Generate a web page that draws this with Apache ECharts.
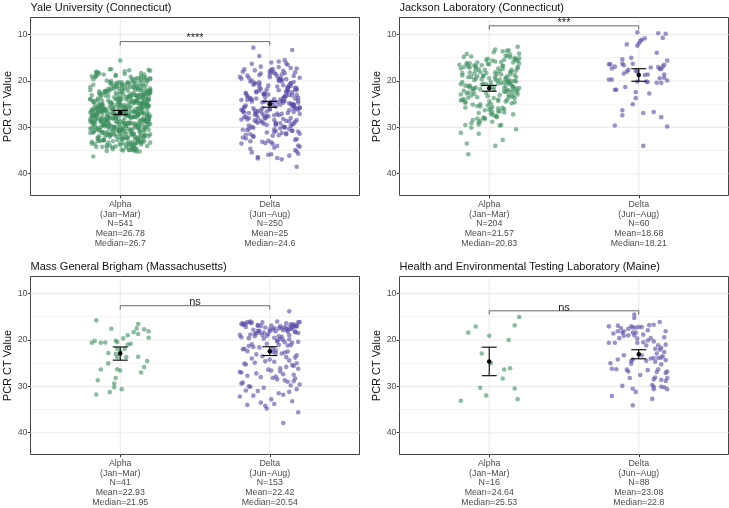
<!DOCTYPE html>
<html><head><meta charset="utf-8">
<script src="https://cdn.jsdelivr.net/npm/echarts@6/dist/echarts.min.js"></script>
<style>html,body{margin:0;padding:0;background:#fff}#c{width:729px;height:508px}</style>
</head><body><div id="c"></div>
<script>
// ---------- data ----------
const panelTitles = ["Yale University (Connecticut)", "Jackson Laboratory (Connecticut)", "Mass General Brigham (Massachusetts)", "Health and Environmental Testing Laboratory (Maine)"];
const variants = ["Alpha", "Delta"];
const periods = ["(Jan\u2212Mar)", "(Jun\u2212Aug)"];
const nCounts = [[541, 250], [204, 60], [41, 153], [16, 88]];
const meanVals = [[26.78, 25], [21.57, 18.68], [22.93, 22.42], [24.64, 23.08]];
const medianVals = [[26.7, 24.6], [20.83, 18.21], [21.95, 20.54], [25.53, 22.8]];
const ciLow = [[26.35, 24.4], [20.95, 17.35], [21.5, 21.45], [21.55, 22.1]];
const ciHigh = [[27.25, 25.65], [22.2, 20.05], [24.35, 23.35], [27.7, 24.05]];
const sigLabels = ["****", "***", "ns", "ns"];
const bracketY = [11.5, 8.1, 12.6, 13.7];
const yTickVals = [10, 20, 30, 40];
const yMinorVals = [15, 25, 35];
const catPositions = [1, 2];

// Yale Alpha (CT, jitter in hundredths of a category)
const yaleAlphaCt = [
26.4,31.2,19.8,28.7,23.1,33.5,25.9,21.4,29.6,27.3,18.2,30.8,24.6,34.1,22.7,27.9,20.5,32.4,26.1,28.3,
24.2,29.1,17.9,33.0,27.6,22.3,30.2,25.4,35.0,21.0,28.9,26.8,19.3,31.7,23.8,27.2,32.9,24.9,20.1,29.8,
25.1,34.6,22.0,28.1,30.5,18.6,26.9,23.4,31.9,27.7,21.7,33.3,25.6,29.3,19.0,28.6,24.0,32.1,26.3,22.9,
30.0,20.8,27.4,33.8,23.6,29.0,17.6,26.0,31.4,24.4,28.4,21.2,34.8,25.2,30.6,22.5,27.0,19.6,32.7,25.8,
28.0,23.0,31.0,26.6,20.3,33.1,24.7,29.4,18.4,27.5,22.1,30.3,25.5,34.3,21.9,28.8,26.2,31.6,23.3,29.7,
19.9,27.1,32.2,24.1,29.2,22.6,35.2,26.5,20.6,30.9,25.0,28.5,17.4,31.3,23.7,27.8,33.6,21.5,26.7,29.9,
24.8,31.8,22.4,28.2,18.9,33.7,26.4,30.1,21.1,27.3,34.5,23.5,29.5,25.7,19.4,32.0,27.6,22.8,30.7,25.3,
29.3,21.8,26.9,33.4,24.3,28.6,20.0,31.5,25.9,22.2,30.4,27.2,18.1,32.6,26.0,29.0,23.9,34.9,27.9,24.5,
26.1,30.6,23.2,19.2,28.9,32.8,25.1,21.6,29.8,27.4,33.9,24.0,30.2,20.4,26.8,28.1,22.7,31.1,25.6,35.1,
27.7,22.0,29.6,24.6,31.9,18.7,26.3,33.2,23.1,28.4,20.9,30.8,25.4,27.0,32.3,21.3,29.1,24.2,34.0,26.6,
23.4,28.7,31.4,20.7,26.0,33.0,25.2,29.4,17.8,27.9,22.9,30.0,24.9,32.5,19.7,28.3,26.5,34.4,21.7,30.5,
31.2,25.8,22.5,28.0,19.1,27.5,33.8,24.7,29.9,21.4,26.2,31.7,23.6,28.8,35.0,25.0,20.2,30.3,27.1,24.4,
28.5,20.5,32.9,26.7,23.8,30.7,18.3,27.8,25.3,31.0,22.3,29.2,34.7,24.1,26.9,21.0,33.5,28.2,23.0,29.7,
25.5,30.1,22.6,34.2,27.3,19.5,29.5,24.8,32.0,26.4,21.9,28.6,31.6,23.3,27.6,18.8,30.9,25.7,33.3,22.1,
26.9,32.4,24.5,20.1,29.0,27.2,31.3,23.5,35.2,25.9,28.9,21.2,30.4,26.1,19.8,33.6,24.3,28.4,22.4,31.8,
29.6,23.7,27.4,31.5,21.6,26.3,34.6,24.9,28.1,18.5,30.6,25.6,33.1,22.8,27.0,29.3,20.3,32.7,26.6,24.0,
22.2,28.3,33.9,25.1,30.2,20.8,27.7,24.6,31.9,26.0,23.2,29.8,17.7,32.2,25.4,28.7,21.8,34.1,27.5,30.0,
31.4,24.2,26.8,21.3,29.1,33.4,25.8,22.7,28.0,30.8,19.3,27.3,34.8,23.9,29.4,26.2,20.6,32.5,24.7,28.5,
27.9,33.0,23.1,30.5,25.2,19.0,28.8,26.5,32.1,22.0,29.7,24.4,31.1,27.1,21.5,34.3,25.5,28.2,23.6,30.9,
24.0,29.2,32.6,26.1,20.0,27.6,31.7,23.4,28.6,35.0,25.3,22.3,30.1,26.9,18.0,33.2,24.8,29.5,27.4,21.1,
30.3,25.9,22.8,28.4,33.7,24.1,27.0,20.4,31.2,26.7,29.0,23.0,34.5,25.6,28.1,19.6,32.3,27.8,22.5,30.6,
26.2,31.0,24.3,28.9,21.7,33.5,27.2,25.0,30.4,18.9,29.3,23.8,32.8,26.4,20.7,28.5,31.6,24.6,27.5,22.9,
29.9,22.1,27.1,32.0,25.4,30.7,19.4,28.3,24.5,33.9,26.0,21.2,29.6,27.9,23.5,31.3,25.7,34.0,20.9,28.0,
25.0,30.2,26.6,23.3,31.8,28.7,20.2,27.3,33.1,24.9,29.1,22.4,26.3,32.4,18.6,30.0,27.7,23.9,28.8,34.9,
27.4,23.6,31.5,26.0,29.4,21.9,33.3,25.2,28.2,19.9,30.8,24.2,27.0,32.9,22.6,29.8,26.8,20.5,31.0,25.8,
32.2,26.5,22.0,29.5,24.7,27.6,34.2,21.4,30.3,25.5,28.4,17.5,31.9,26.2,23.1,29.0,33.6,24.4,27.8,20.8,
28.6,24.8,30.5,22.7,27.2,33.0,25.9,19.2,29.7,26.9,31.4,23.2,28.0,21.6,32.7,25.3,30.1,27.5,24.1,36.3,
15.6];
const yaleAlphaJit = [
-12,7,18,-3,15,-19,2,11,-8,5,-16,13,-1,9,-14,19,-6,4,-11,16,
8,-17,3,14,-9,20,-4,-13,10,1,-18,6,17,-7,12,-2,-15,0,18,-10,
-5,11,-20,7,16,-11,3,19,-14,9,-1,-8,15,5,-19,13,-3,10,-16,2,
17,-6,12,0,-13,6,19,-10,4,-17,14,-4,8,-12,1,16,-9,20,-2,-15,
3,13,-18,9,-7,15,-1,11,-14,18,5,-20,7,-5,12,-11,2,17,-8,10,
-9,4,16,-15,10,-3,13,-19,6,1,-12,19,-6,14,-1,8,-17,3,11,-4,
14,-10,1,18,-16,7,-5,12,-2,-18,9,15,-11,4,20,-7,6,-13,16,0,
-1,17,-12,5,11,-19,8,-4,14,-9,2,19,-15,10,-6,13,-20,6,-3,15,
10,-14,6,16,-2,-11,18,1,-17,12,-7,4,-19,9,15,-5,20,-12,3,-9,
-18,2,13,-7,19,-3,-15,8,11,-10,17,-1,5,-16,14,7,-8,0,18,-13,
6,-20,9,15,-5,12,-12,3,20,-8,-2,16,-14,1,10,-17,13,4,-6,19,
-11,14,0,-16,7,18,-9,11,-4,5,-19,8,15,-13,2,17,-1,-7,12,-18,
16,-3,-13,10,1,-17,14,-8,19,3,-10,7,-5,18,-15,11,0,-20,9,4,
-7,12,19,-12,4,8,-18,15,-1,-14,10,2,-9,17,6,-16,13,-4,20,-10,
2,-15,7,13,-19,16,-6,0,11,-11,18,-3,5,-17,14,9,-12,19,-8,1,
12,5,-16,20,-4,-9,10,17,-13,3,-1,14,-19,7,-7,15,1,-11,8,-20,
-14,18,4,-2,13,-18,9,-6,16,-12,11,0,6,-15,19,-8,14,-3,-17,10,
9,-8,15,-20,2,11,-14,19,-5,7,13,-16,1,17,-10,4,-2,12,18,-13,
-3,16,-10,8,-17,14,0,-12,5,20,-6,10,-18,3,12,-9,18,-15,7,-1,
19,-11,1,12,-6,-19,16,4,-9,9,-14,18,-2,11,-16,6,13,-7,0,15,
-16,6,17,-9,14,0,-4,10,-20,18,3,-13,8,-1,15,-18,5,11,-11,-5,
4,-12,10,18,-8,2,-17,13,7,-3,20,-15,12,-10,1,16,-6,9,-19,14,
-8,20,-5,3,17,-14,11,-1,-18,6,15,9,-12,19,-4,0,-16,8,13,-7,
15,1,-19,11,-3,17,5,-15,12,-6,8,19,-11,2,16,-13,10,-2,-17,6,
-2,13,8,-18,19,-7,14,3,-10,16,-4,11,0,-14,9,18,-20,5,-9,12,
11,-4,14,-11,6,20,-16,9,2,-13,17,-7,13,-1,-19,5,10,16,-12,3,
-13,9,-1,16,12,-5,18,-17,4,14,-8,7,-3,20,-11,1,-15,6,19,-18,
0];

// Yale Delta
const yaleDeltaCt = [
24.6,19.3,28.8,22.1,31.5,26.2,17.4,29.7,23.5,33.9,20.8,27.1,25.3,18.6,30.4,21.7,35.2,24.0,28.2,22.9,
26.8,16.5,31.0,23.8,20.2,29.2,25.7,34.6,19.8,27.6,22.4,32.2,24.3,18.1,28.5,26.0,21.3,30.8,23.2,36.1,
20.5,25.9,29.9,17.8,24.8,32.7,22.6,27.4,19.1,31.3,23.9,26.5,35.7,21.0,28.0,18.9,25.1,30.1,22.2,33.4,
27.9,21.9,24.5,30.6,18.3,26.4,23.1,29.0,16.9,34.2,25.6,20.1,28.7,22.8,31.8,24.1,19.6,27.0,33.0,21.4,
23.6,29.5,18.0,26.9,22.0,32.0,25.0,20.7,28.4,17.2,30.3,24.7,35.9,21.6,27.3,19.4,31.6,23.0,26.1,28.9,
19.9,25.4,31.2,22.5,27.8,16.2,29.3,24.2,20.4,33.6,26.7,18.4,30.0,23.4,25.8,36.4,21.2,28.3,24.9,17.6,
29.1,22.7,26.3,19.2,32.5,24.4,27.5,20.9,30.7,18.7,25.2,34.9,23.7,28.6,21.8,26.6,17.0,31.4,22.3,25.5,
27.2,18.2,30.9,24.6,21.1,29.6,23.3,33.2,19.5,26.0,28.1,22.0,36.7,20.0,25.7,31.9,17.9,27.7,24.3,29.4,
21.5,26.8,19.0,28.4,23.9,32.9,25.3,17.5,30.2,22.9,27.1,20.6,34.4,24.8,18.8,29.8,26.4,21.9,31.1,23.5,
16.0,28.0,24.1,31.7,20.3,26.2,22.6,35.4,27.9,19.7,30.5,25.0,18.5,28.8,23.0,33.1,21.3,26.9,24.5,29.2,
22.8,30.0,18.1,25.9,27.4,21.0,32.4,24.0,19.3,28.6,26.1,17.3,31.5,23.6,29.0,20.5,34.0,25.6,22.2,27.6,
25.2,20.1,29.5,23.2,33.5,18.6,26.6,30.8,22.4,24.7,19.6,28.3,21.7,27.0,35.8,23.8,17.7,30.4,26.3,24.2,
12.8,13.3,14.6,15.8,38.5,36.9,36.6,15.5,16.3,24.4];
const yaleDeltaJit = [
5,-14,17,-7,11,-19,2,14,-3,19,-11,8,-16,0,13,-6,18,-12,9,-1,
-17,12,3,-9,16,-4,20,-13,7,-2,15,-18,10,1,-10,18,-7,4,-15,13,
14,-5,-12,9,0,17,-16,6,-20,11,3,-8,19,-1,-14,16,7,-11,12,-3,
-8,18,1,-15,10,-10,15,4,-6,20,-17,8,13,-4,2,-19,11,5,-13,17,
19,-2,-18,12,6,-11,16,-7,3,14,-14,9,-1,18,-9,7,-16,13,0,-5,
-12,15,8,-3,-17,11,4,19,-10,2,16,-6,10,-15,20,-8,5,-19,14,1,
7,-16,13,0,18,-12,-4,9,15,-7,2,17,-13,11,-2,-18,6,20,-9,4,
-10,3,19,-5,14,-14,10,1,-19,16,-3,12,-8,6,17,-11,0,-16,8,15,
12,-9,5,18,-13,-1,16,-17,7,-4,20,-10,3,13,-15,9,-6,17,-2,10,
1,14,-15,6,-7,19,11,-12,-3,8,-18,15,4,-9,18,-5,12,-14,2,16,
-4,10,17,-11,3,13,-16,7,20,-6,0,18,-13,9,-8,14,5,-17,11,-1,
16,-13,4,11,-19,8,-2,15,-9,19,6,-15,12,-5,1,17,-10,3,-18,9,
-11,15,-7,6,18,8,5,10,-12,-3];

// Jackson Alpha
const jacksonAlphaCt = [
20.5,16.2,24.8,18.9,22.1,14.8,27.3,19.6,21.4,25.9,17.3,23.0,15.5,20.0,28.4,18.1,22.7,16.8,26.2,19.2,
21.8,14.3,24.1,17.9,20.9,29.1,16.0,23.5,19.0,25.3,15.1,21.1,27.8,18.4,22.4,16.6,20.3,24.5,13.8,19.8,
23.7,17.6,21.6,26.8,15.8,20.7,18.6,28.9,22.9,16.4,24.3,19.4,21.0,14.6,25.6,17.1,23.2,20.2,29.5,18.3,
16.9,22.3,19.9,25.0,15.3,21.7,27.0,18.0,23.9,17.4,20.6,14.1,26.5,19.1,22.0,16.3,24.7,21.3,18.7,28.1,
20.1,25.7,17.0,22.6,15.9,19.5,23.4,18.2,27.5,21.5,16.5,24.0,14.9,20.8,26.0,17.8,22.2,19.3,29.4,15.6,
22.8,18.5,21.2,16.1,24.4,20.4,27.9,17.2,23.1,19.7,15.0,25.4,21.9,18.8,14.5,26.3,20.0,23.6,16.7,28.6,
19.0,24.2,15.4,21.6,17.5,26.7,22.5,18.0,20.5,25.1,16.2,23.3,13.6,21.0,27.2,19.6,22.0,17.7,24.9,20.9,
17.0,23.0,20.3,28.2,15.7,21.4,18.6,25.5,22.4,16.4,19.8,24.6,14.2,27.6,21.1,18.3,23.7,20.6,16.0,26.1,
21.8,15.2,19.2,24.1,17.3,22.9,28.8,20.1,16.8,25.8,18.9,23.5,14.7,21.5,26.9,19.5,17.6,22.1,29.6,20.7,
12.6,13.2,13.5,35.8,33.5,34.0,31.2,30.1,32.7,31.4,29.5,13.4,30.4,26.6,28.0,15.4,19.0,22.3,17.1,20.2,
24.4,18.1,21.3,16.6];
const jacksonAlphaJit = [
8,-13,15,-4,19,-17,2,11,-9,6,-19,13,-2,17,-11,4,-15,9,0,18,
-6,14,-18,7,1,-12,16,-8,12,-1,20,-14,5,-10,18,-5,10,-16,3,13,
17,-3,-11,10,4,-19,14,-7,19,-15,6,0,-13,12,2,-9,16,-18,8,-2,
-14,11,5,-6,18,-10,1,15,-17,9,-4,20,7,-12,13,-1,-16,3,17,-8,
12,-16,19,-2,8,-9,15,-13,4,10,-20,6,14,-5,1,18,-11,11,-7,2,
-10,5,16,-15,0,13,-4,19,-12,7,17,-8,3,-18,11,-3,15,-14,9,-6,
4,-19,10,18,-7,2,-14,14,6,-11,20,-1,9,-16,16,-5,12,-9,1,15,
-17,7,13,-3,19,-13,8,-6,15,0,-10,17,-15,5,11,-18,3,14,-8,10,
16,-1,-14,12,6,-19,2,18,-9,9,-4,13,-12,20,-7,4,15,-17,7,-2,
19,4,12,-14,-15,4,-19,-12,9,-7,-16,13,18,6,-3,17,-8,10,-13,1,
11,-6,16,-10];

// Jackson Delta
const jacksonDeltaCt = [9.5,9.7,9.8,10.7,10.8,11.1,11.4,11.9,12.1,12.4,13.9,15.0,15.3,15.6,16.4,16.4,16.25,16.3,16.5,16.9,17.3,16.6,17.1,17.0,17.4,17.4,16.9,17.6,18.0,18.4,17.8,18.0,18.7,18.6,18.6,19.4,19.3,19.9,20.4,20.4,20.2,20.1,20.1,19.7,19.7,21.9,21.9,21.3,22.4,22.7,23.7,25.0,26.3,27.4,26.9,26.7,27.8,29.6,29.8,34.0];
const jacksonDeltaJit = [-1,13,18,16,4,2,1,0,-8,-1,12,-5,-11,19,-20,-19,-11,-4,17,-16,-18,-10,8,13,14,15,16,-7,-8,-10,-2,-1,4,6,17,14,17,19,15,12,6,-1,5,-20,-18,-16,-15,-9,-2,7,-2,-4,-11,-11,3,10,15,-16,19,3];

// Mass General Brigham
const mgbAlphaCt = [15.77,17.56,16.56,17.5,18.3,17.7,18.1,18.7,19.0,19.5,19.65,20.2,20.6,20.6,20.55,20.15,20.45,20.8,21.0,21.9,21.9,22.8,23.0,23.7,23.7,23.6,25.05,24.55,25.85,26.3,26.6,26.35,27.0,28.2,28.7,29.4,30.2,30.6,31.25,31.75,22.5];
const mgbAlphaJit = [-16,-6,12,11,9,16,19,12,5,19,2,-17,-19,-13,-10,-3,-2,7,5,-2,3,-8,-3,4,-2,12,-8,18,16,-2,0,-13,14,-3,-15,-4,-4,1,-7,-16,0];
const mgbDeltaCt = [
16.1,17.4,16.8,18.2,16.4,17.0,19.1,16.6,17.8,18.5,16.2,17.2,19.4,16.9,17.6,18.8,16.0,17.1,18.0,16.5,
17.9,16.3,18.3,17.3,19.0,16.7,17.5,18.6,16.1,17.7,19.6,16.4,18.1,17.0,16.8,18.9,17.4,16.2,19.2,17.8,
18.4,16.6,17.2,19.8,16.9,18.7,17.6,16.0,20.3,17.1,18.0,19.5,16.5,17.9,20.8,18.2,21.5,20.0,22.4,19.9,
21.0,23.1,20.6,22.0,21.8,22.7,23.5,20.4,21.3,22.9,24.2,21.6,23.8,20.9,22.5,24.6,21.1,25.3,22.2,23.3,
24.9,26.1,25.6,27.0,24.4,26.6,25.1,27.4,26.2,28.0,25.8,27.7,24.7,26.9,28.5,25.4,27.2,29.0,26.4,28.3,
29.4,27.9,30.1,28.7,29.8,31.0,28.2,30.6,29.2,31.5,30.3,28.9,31.2,32.0,29.6,30.9,32.8,31.8,33.2,32.2,
33.8,34.0,34.8,35.6,37.9,13.8,34.2,33.5,19.3,18.6,17.5,16.3,20.1,22.6,18.4,17.0,21.9,23.7,19.7,26.8,
17.3,16.7,18.1,20.5,24.0,27.5,19.2,16.9,22.8,30.0,25.0,18.9,21.2];
const mgbDeltaJit = [
-15,3,-8,12,-18,7,-2,16,-11,19,-5,10,-19,1,14,-13,5,18,-7,-16,
9,-12,17,-3,13,-17,6,-9,20,0,-14,11,4,-6,15,-20,8,19,-10,2,
-4,14,-16,7,18,-1,11,-13,5,16,-8,3,-19,12,-2,17,-11,9,-15,13,
6,-9,15,-18,2,10,-5,19,-14,8,0,-7,17,-12,12,-3,14,-16,4,18,
-10,7,16,-19,13,1,-17,9,19,-6,11,-15,3,-20,5,15,-9,12,-1,17,
-19,4,-13,10,14,-8,2,18,-18,6,-4,16,13,-11,20,-16,1,9,15,-20,
3,-15,-2,19,9,13,-3,-6,8,-10,15,-13,5,2,-7,17,-17,11,-4,7,
13,-18,0,10,-12,16,6,-8,4,-14,18,-5,12];

// Health and Environmental Testing Laboratory
const hetlAlphaCt = [15.05,16.85,17.1,18.4,19.1,20.0,22.9,26.1,26.35,28.3,30.3,30.45,31.96,32.76,33.1,25.0];
const hetlAlphaJit = [20,17,-9,-14,0,13,-5,14,10,9,-6,17,-2,19,-19,1];
const hetlDeltaCt = [14.5,15.25,16.1,16.8,16.7,17.05,16.9,17.4,17.05,17.3,17.3,17.2,18.1,18.1,18.6,18.1,18.4,18.4,18.4,18.85,19.0,19.6,19.4,19.6,19.1,19.7,19.0,20.5,20.3,20.1,20.6,20.6,20.6,21.0,21.15,21.9,22.1,21.7,22.6,22.9,23.9,23.8,24.0,23.9,24.3,23.3,24.2,24.5,24.2,24.5,24.7,23.5,25.0,25.25,27.55,26.2,26.3,26.4,26.8,26.3,26.9,26.8,27.1,28.2,28.1,28.5,28.2,28.6,28.85,29.9,29.7,30.1,30.6,30.1,30.2,30.6,30.5,31.2,32.1,32.7,34.1,17.2,17.6,17.9,21.2,23.3,25.1,26.5];
const hetlDeltaJit = [-3,-3,14,7,10,-20,-14,-12,-5,-4,-2,2,18,-14,-17,-10,-11,-4,-2,3,-3,8,17,-13,-10,-1,-7,3,10,6,-20,-16,-1,18,13,11,14,15,17,12,13,15,8,10,18,-10,-14,-5,-4,5,11,16,-19,15,1,-18,-15,-8,-7,13,12,19,18,-6,11,10,19,15,18,-11,9,10,10,15,17,19,-4,-2,-18,9,-4,0,-7,6,5,2,-5,6];

const panelCt = [[yaleAlphaCt, yaleDeltaCt], [jacksonAlphaCt, jacksonDeltaCt], [mgbAlphaCt, mgbDeltaCt], [hetlAlphaCt, hetlDeltaCt]];
const panelJit = [[yaleAlphaJit, yaleDeltaJit], [jacksonAlphaJit, jacksonDeltaJit], [mgbAlphaJit, mgbDeltaJit], [hetlAlphaJit, hetlDeltaJit]];

// ---------- layout / style ----------
const FONT = '"Liberation Sans", Arial, Helvetica, sans-serif';
const Y_MIN = 6.3, Y_MAX = 44.7, X_MIN = 0.4, X_MAX = 2.6;
const gridPos = [
  {left: 30.5, top: 17.5}, {left: 399.5, top: 17.5},
  {left: 30.5, top: 276.5}, {left: 399.5, top: 276.5}
];
const PW = 329, PH = 178;
const groupColors = ['#3d8f5f', '#594aa6'];

const chart = echarts.init(document.getElementById('c'), null, {renderer: 'canvas'});

const grid = [], xAxis = [], yAxis = [], series = [], title = [];

const gridData = [];
yTickVals.forEach(v => gridData.push([0, v, 1]));
yMinorVals.forEach(v => gridData.push([0, v, 0]));
catPositions.forEach(v => gridData.push([1, v, 1]));

function gridRender(params, api) {
  const o = api.value(0), v = api.value(1), major = api.value(2);
  let a, b;
  if (o === 0) { a = api.coord([X_MIN, v]); b = api.coord([X_MAX, v]); }
  else { a = api.coord([v, Y_MIN]); b = api.coord([v, Y_MAX]); }
  return {type: 'line', shape: {x1: a[0], y1: a[1], x2: b[0], y2: b[1]},
    style: {stroke: '#ebebeb', lineWidth: major ? 1.1 : 0.6}};
}

function errRender(params, api) {
  const x = api.value(0), lo = api.value(1), hi = api.value(2);
  const p1 = api.coord([x, lo]), p2 = api.coord([x, hi]);
  const hw = api.size([0.05, 0])[0];
  const st = {stroke: '#000', lineWidth: 1.1};
  return {type: 'group', children: [
    {type: 'line', shape: {x1: p1[0], y1: p1[1], x2: p2[0], y2: p2[1]}, style: st},
    {type: 'line', shape: {x1: p1[0] - hw, y1: p1[1], x2: p1[0] + hw, y2: p1[1]}, style: st},
    {type: 'line', shape: {x1: p2[0] - hw, y1: p2[1], x2: p2[0] + hw, y2: p2[1]}, style: st}
  ]};
}

function makeBracketRender(label) {
  return function (params, api) {
    const x1 = api.value(0), x2 = api.value(1), yl = api.value(2), yt = api.value(3);
    const a = api.coord([x1, yt]), b = api.coord([x1, yl]), c = api.coord([x2, yl]), d = api.coord([x2, yt]);
    return {type: 'group', children: [
      {type: 'polyline', shape: {points: [a, b, c, d]}, style: {stroke: '#444', lineWidth: 0.8, fill: null}},
      {type: 'text', x: (b[0] + c[0]) / 2, y: b[1] + 2.2,
        style: {text: label, fill: '#222', font: '11px ' + FONT, align: 'center', verticalAlign: 'bottom'}}
    ]};
  };
}

for (let i = 0; i < 4; i++) {
  grid.push({left: gridPos[i].left, top: gridPos[i].top, width: PW, height: PH,
    show: true, borderColor: '#444', borderWidth: 1, backgroundColor: 'transparent'});
  title.push({text: panelTitles[i], left: gridPos[i].left, top: gridPos[i].top - 15, padding: 0,
    textStyle: {fontSize: 11, fontWeight: 'normal', color: '#111', fontFamily: FONT}});
  const labels = [0, 1].map(g => [variants[g], periods[g], 'N=' + nCounts[i][g],
    'Mean=' + meanVals[i][g], 'Median=' + medianVals[i][g]].join('\n'));
  xAxis.push({type: 'value', gridIndex: i, min: X_MIN, max: X_MAX,
    splitLine: {show: false}, axisLine: {show: false},
    axisTick: {show: true, customValues: catPositions, length: 2.75, lineStyle: {color: '#333', width: 1}},
    axisLabel: {customValues: catPositions, formatter: v => labels[Math.round(v) - 1],
      fontSize: 8.8, lineHeight: 9.6, color: '#4d4d4d', fontFamily: FONT, margin: 4.5}});
  yAxis.push({type: 'value', gridIndex: i, min: Y_MIN, max: Y_MAX, inverse: true,
    splitLine: {show: false}, axisLine: {show: false},
    axisTick: {show: true, customValues: yTickVals, length: 2.75, lineStyle: {color: '#333', width: 1}},
    axisLabel: {customValues: yTickVals, fontSize: 8.8, color: '#4d4d4d', fontFamily: FONT, margin: 3},
    name: 'PCR CT Value', nameLocation: 'middle', nameGap: 11,
    nameTextStyle: {fontSize: 11, color: '#111', fontFamily: FONT}});

  series.push({type: 'custom', xAxisIndex: i, yAxisIndex: i, renderItem: gridRender, data: gridData,
    silent: true, z: 1, clip: true});
  for (let g = 0; g < 2; g++) {
    const ct = panelCt[i][g], jit = panelJit[i][g];
    series.push({type: 'scatter', xAxisIndex: i, yAxisIndex: i, symbolSize: 4.6,
      itemStyle: {color: groupColors[g], opacity: 0.6}, silent: true, z: 2,
      data: ct.map((v, k) => [catPositions[g] + jit[k] / 100, v])});
  }
  series.push({type: 'custom', xAxisIndex: i, yAxisIndex: i, renderItem: errRender, silent: true, z: 4,
    data: [0, 1].map(g => [catPositions[g], ciLow[i][g], ciHigh[i][g]])});
  series.push({type: 'scatter', xAxisIndex: i, yAxisIndex: i, symbolSize: 4.5, silent: true, z: 5,
    itemStyle: {color: '#000', opacity: 1},
    data: [0, 1].map(g => [catPositions[g], meanVals[i][g]])});
  series.push({type: 'custom', xAxisIndex: i, yAxisIndex: i, renderItem: makeBracketRender(sigLabels[i]),
    silent: true, z: 6, clip: false,
    data: [[catPositions[0], catPositions[1], bracketY[i], bracketY[i] + 0.8]]});
}

chart.setOption({animation: false, backgroundColor: '#fff', title, grid, xAxis, yAxis, series});
</script></body></html>
